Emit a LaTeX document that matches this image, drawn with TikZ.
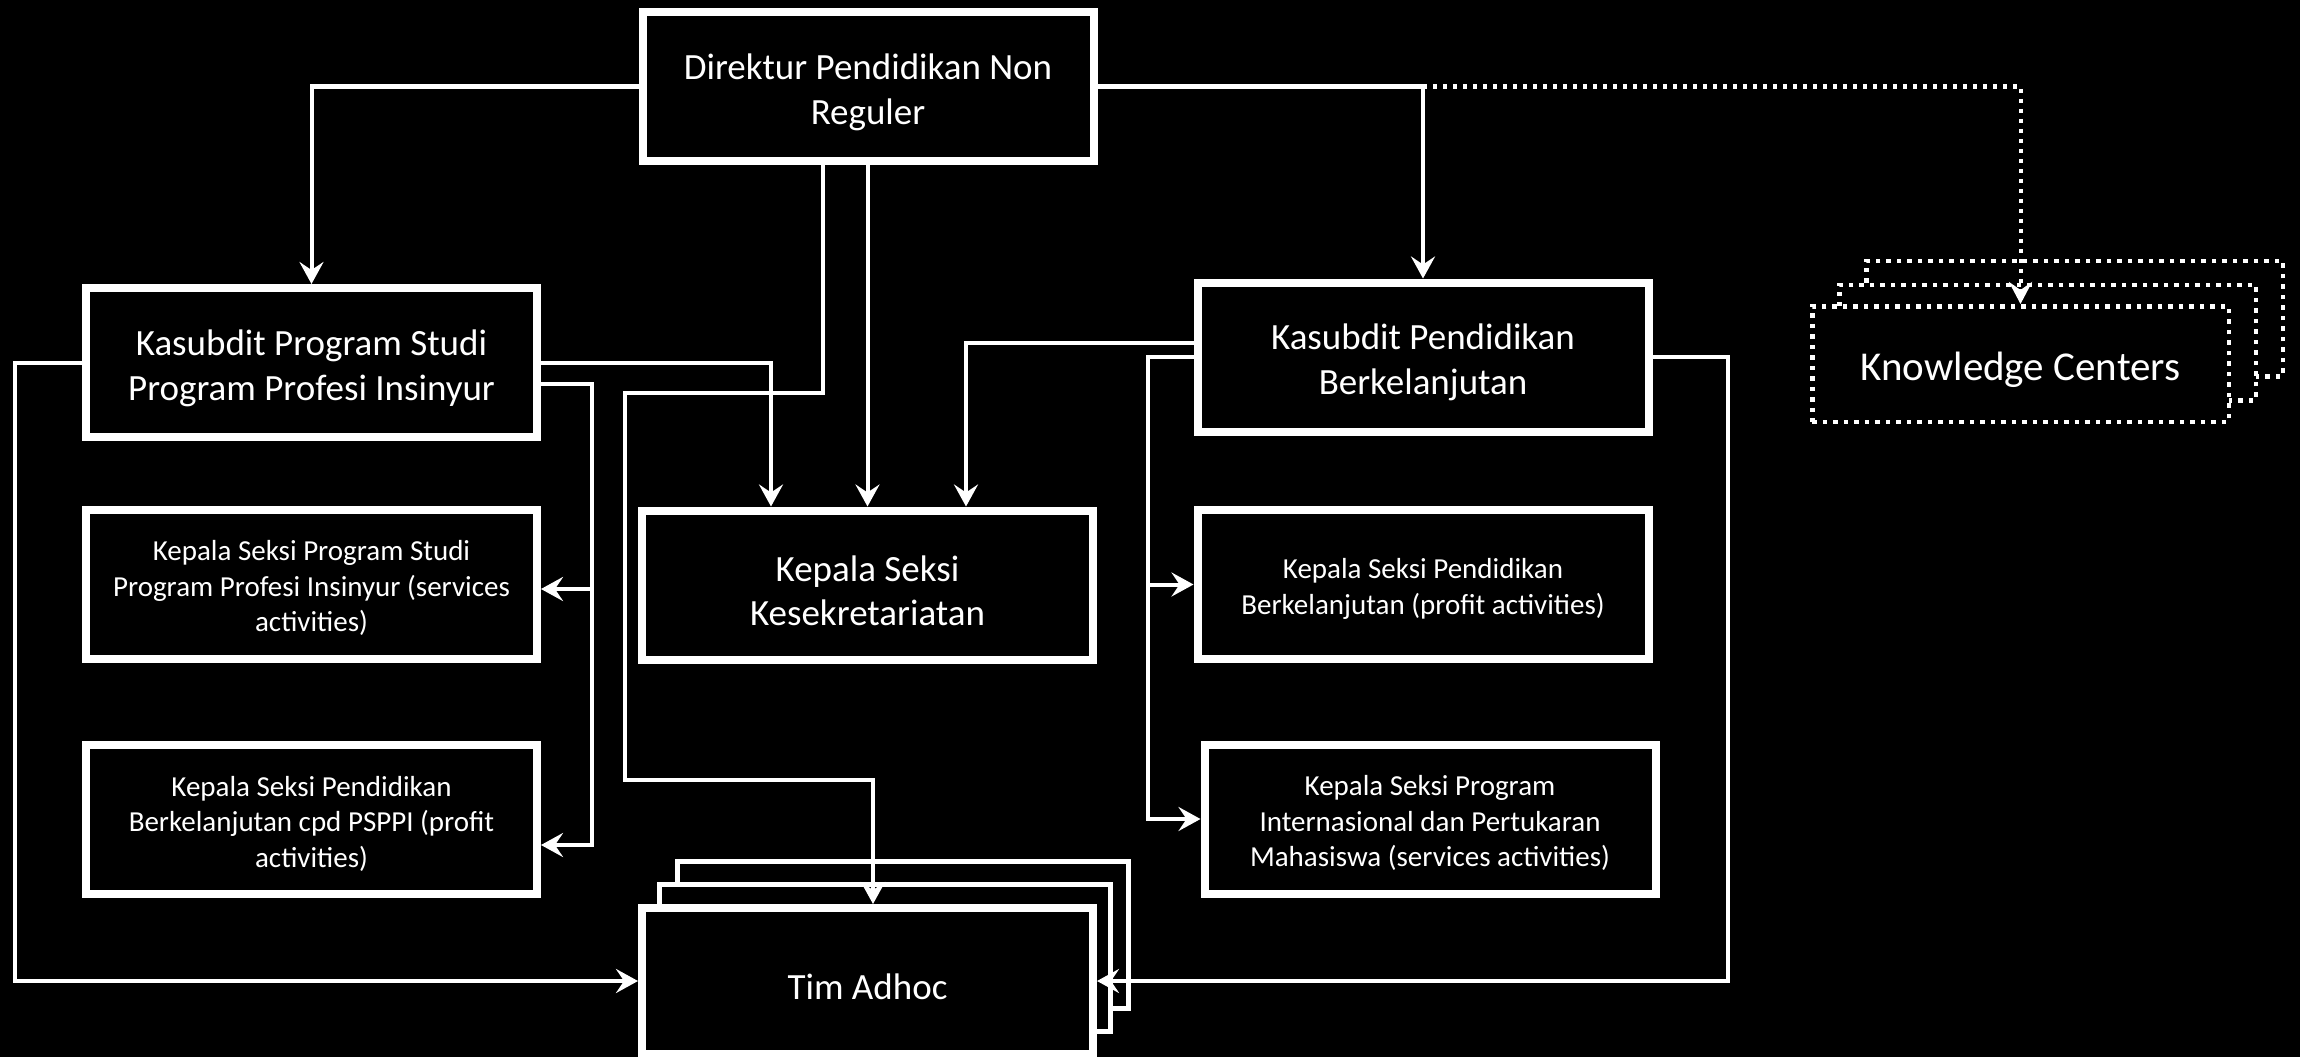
\documentclass[tikz,border=0pt]{standalone}
\usepackage{fontspec}
\setmainfont{Carlito}
\usetikzlibrary{arrows.meta}
\newcommand\fbig{\fontsize{37pt}{44.7pt}\selectfont}
\newcommand\fsmall{\fontsize{29pt}{35.5pt}\selectfont}
\newcommand\fkc{\fontsize{41pt}{49pt}\selectfont}
\newcommand\ts{\rule{0pt}{1em}}
\begin{document}
\begin{tikzpicture}[x=1pt,y=-1pt,
  box/.style={draw=white, line width=8pt, fill=black, text=white,
    minimum width=451pt, minimum height=149pt, align=center, inner sep=0pt, font=\fbig},
  backbox/.style={draw=white, line width=5pt, fill=black,
    minimum width=451pt, minimum height=147pt, inner sep=0pt},
  kcbox/.style={draw=white, line width=4.5pt, dash pattern=on 4.5pt off 6pt, fill=black,
    text=white, minimum width=416.5pt, minimum height=115.5pt, inner sep=0pt, font=\fkc},
  conn/.style={draw=white, line width=4pt},
  arr/.style={conn, -{Stealth[length=22pt,width=24pt,inset=8pt]}},
  dotarr/.style={draw=white, line width=4pt, dash pattern=on 4pt off 6pt,
    -{Stealth[length=22pt,width=23pt,inset=8pt]}}]
\fill[black] (0,0) rectangle (2300,1057);
\useasboundingbox (0,0) rectangle (2300,1057);

% stacked back boxes
\node[backbox] (ta3) at (903,935) {};
\node[backbox] (ta2) at (885,958) {};
\node[kcbox] (kc3) at (2074.5,318.5) {};
\node[kcbox] (kc2) at (2047.5,342.5) {};

% main boxes
\node[box] (dir) at (868,86.5) {\ts Direktur Pendidikan Non\\Reguler};
\node[box] (kps) at (311.5,362.5) {\ts Kasubdit Program Studi\\Program Profesi Insinyur};
\node[box, font=\fsmall] (ks1) at (311.5,584) {\ts Kepala Seksi Program Studi\\Program Profesi Insinyur (services\\activities)};
\node[box, font=\fsmall] (ks2) at (311.5,819.5) {\ts Kepala Seksi Pendidikan\\Berkelanjutan cpd PSPPI (profit\\activities)};
\node[box] (ksk) at (867.5,585) {\ts Kepala Seksi\\Kesekretariatan};
\node[box] (kpb) at (1423,357) {\ts Kasubdit Pendidikan\\Berkelanjutan};
\node[box, font=\fsmall] (ks3) at (1423,584.5) {\ts Kepala Seksi Pendidikan\\Berkelanjutan (profit activities)};
\node[box, font=\fsmall] (ks4) at (1430,819) {\ts Kepala Seksi Program\\Internasional dan Pertukaran\\Mahasiswa (services activities)};
\node[box, minimum height=146pt] (ta) at (867.5,981) {\ts Tim Adhoc};
\node[kcbox] (kc) at (2020.5,364) {\ts Knowledge Centers};

% waypoints
\coordinate (a1) at (625,393);
\coordinate (a2) at (873,780);
\coordinate (b1) at (592,589);
\coordinate (b2) at (592,845);
\coordinate (c0) at (15,0);
\coordinate (d1) at (1148,0);
\coordinate (e1) at (1728,0);

% connectors
\draw[arr] (dir.west) -| (kps.north);
\draw[arr] (dir.east) -| (kpb.north);
\draw[dotarr] (dir.east -| kpb.north) -| (kc.north);
\draw[arr] (ksk.north |- dir.south) -- (ksk.north);
\draw[arr] ([xshift=-45pt]dir.south) |- (a1) |- (a2) -- (a2 |- ta.north);

\draw[arr] (kps.east) -| ([xshift=-96.5pt]ksk.north);
\draw[arr] ([yshift=-21pt]kps.east) -| (b2) -- (b2 -| ks2.east);
\draw[arr] (b1) -- (b1 -| ks1.east);
\draw[arr] (kps.west) -| (c0 |- ta.west) -- (ta.west);

\draw[arr] ([yshift=14pt]kpb.west) -| ([xshift=98.5pt]ksk.north);
\draw[arr] (kpb.west) -| (d1 |- ks4.west) -- (ks4.west);
\draw[arr] (d1 |- ks3.west) -- (ks3.west);
\draw[arr] (kpb.east) -| (e1 |- ta.east) -- (ta.east);
\end{tikzpicture}
\end{document}
